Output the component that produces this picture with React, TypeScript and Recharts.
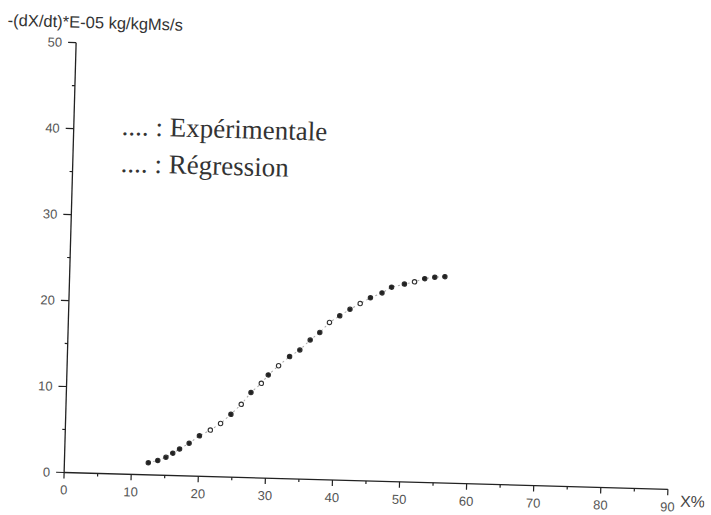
import { Legend, Scatter, ScatterChart, XAxis, YAxis } from "recharts";

// drying rate vs moisture content X%
const regX = [
  12.5, 13.9, 15.1, 16.1, 17.1, 18.5, 20.0, 21.6, 23.1, 24.6, 26.1, 27.5, 29.0, 30.0, 31.5, 33.1,
  34.6, 36.1, 37.5, 38.9, 40.4, 41.9, 43.4, 44.9, 46.6, 48.0, 49.9, 51.4, 52.9, 54.4, 55.9,
];
const regY = [
  1.4, 1.7, 2.1, 2.6, 3.1, 3.8, 4.7, 5.4, 6.2, 7.3, 8.5, 9.9, 11.0, 12.0, 13.1, 14.2,
  15.0, 16.2, 17.1, 18.3, 19.1, 19.9, 20.6, 21.3, 21.9, 22.6, 23.0, 23.3, 23.7, 23.9, 24.0,
];
const expX = [
  12.5, 13.9, 15.1, 16.1, 17.1, 18.5, 20.0, 24.6, 27.5, 30.0, 33.1, 34.6, 36.1, 37.5, 40.4, 41.9,
  44.9, 46.6, 48.0, 49.9, 52.9, 54.4, 55.9,
];
const expY = [
  1.4, 1.7, 2.1, 2.6, 3.1, 3.8, 4.7, 7.3, 9.9, 12.0, 14.2, 15.0, 16.2, 17.1, 19.1, 19.9,
  21.3, 21.9, 22.6, 23.0, 23.7, 23.9, 24.0,
];
const xTicks = [0, 5, 10, 15, 20, 25, 30, 35, 40, 45, 50, 55, 60, 65, 70, 75, 80, 85, 90];
const yTicks = [0, 5, 10, 15, 20, 25, 30, 35, 40, 45, 50];

const SANS = '"Liberation Sans", Arial, sans-serif';
const SERIF = '"Liberation Serif", "Times New Roman", serif';
const INK = "#222";

const experimental = expX.map((x, i) => ({ x, y: expY[i] }));
const regression = regX.map((x, i) => ({ x, y: regY[i] }));

function XTick({ x, y, payload }: any) {
  const major = payload.value % 10 === 0;
  return (
    <g>
      <line x1={x} y1={y} x2={x} y2={y + (major ? 6 : 3)} stroke={INK} strokeWidth={1.2} />
      {major && (
        <text x={x} y={y + 22} textAnchor="middle" fontSize={13} fill="#555" fontFamily={SANS}>
          {payload.value}
        </text>
      )}
    </g>
  );
}

function YTick({ x, y, payload }: any) {
  const major = payload.value % 10 === 0;
  return (
    <g>
      <line x1={x - (major ? 8 : 3)} y1={y} x2={x} y2={y} stroke={INK} strokeWidth={1.2} />
      {major && (
        <text x={x - 14} y={y} dy="0.35em" textAnchor="end" fontSize={13} fill="#555" fontFamily={SANS}>
          {payload.value}
        </text>
      )}
    </g>
  );
}

const FilledDot = ({ cx, cy }: any) => <circle cx={cx} cy={cy} r={2.1} fill={INK} />;
const HollowDot = ({ cx, cy }: any) => (
  <circle cx={cx} cy={cy} r={2.2} fill="#fff" stroke="#333" strokeWidth={1.1} />
);

function LegendBox({ payload }: any) {
  return (
    <div style={{ fontFamily: SERIF, fontSize: 27, color: "#333", lineHeight: "37px", textAlign: "left" }}>
      {(payload || []).map((entry: any) => (
        <div key={entry.value} style={{ whiteSpace: "pre" }}>
          {".... : " + entry.value}
        </div>
      ))}
    </div>
  );
}

export default function App() {
  return (
    <div
      style={{
        position: "fixed",
        left: 0,
        top: 0,
        width: 711,
        height: 515,
        overflow: "hidden",
        background: "#fff",
      }}
    >
      <div style={{ width: 711, height: 515, transform: "rotate(1.6deg)", transformOrigin: "372px 266px" }}>
        <ScatterChart width={711} height={515} margin={{ top: 51, right: 37, bottom: 4, left: 30 }}>
          <XAxis
            type="number"
            dataKey="x"
            domain={[0, 90]}
            ticks={xTicks}
            interval={0}
            height={30}
            tickSize={0}
            tickMargin={0}
            tickLine={false}
            tick={<XTick />}
            axisLine={{ stroke: INK, strokeWidth: 1.3 }}
            label={{
              value: "X%",
              content: ({ viewBox }: any) => (
                <text
                  x={viewBox.x + viewBox.width + 25}
                  y={viewBox.y + 17}
                  textAnchor="middle"
                  fontSize={16}
                  fill="#444"
                  fontFamily={SANS}
                >
                  X%
                </text>
              ),
            }}
          />
          <YAxis
            type="number"
            dataKey="y"
            domain={[0, 50]}
            ticks={yTicks}
            interval={0}
            width={40}
            tickSize={0}
            tickMargin={0}
            tickLine={false}
            tick={<YTick />}
            axisLine={{ stroke: INK, strokeWidth: 1.3 }}
            label={{
              value: "-(dX/dt)*E-05 kg/kgMs/s",
              content: ({ viewBox }: any) => (
                <text x={viewBox.x - 29} y={viewBox.y - 15} fontSize={16.5} fill="#333" fontFamily={SANS}>
                  -(dX/dt)*E-05 kg/kgMs/s
                </text>
              ),
            }}
          />
          <Legend
            layout="vertical"
            align="center"
            verticalAlign="middle"
            content={<LegendBox />}
            wrapperStyle={{ left: 118, top: 115, width: "auto" }}
          />
          <Scatter
            name="Régression"
            data={regression}
            fill="#333"
            line={{ stroke: "#aaa", strokeWidth: 1, strokeDasharray: "2 3" }}
            lineType="joint"
            shape={<HollowDot />}
            isAnimationActive={false}
          />
          <Scatter
            name="Expérimentale"
            data={experimental}
            fill={INK}
            shape={<FilledDot />}
            isAnimationActive={false}
          />
        </ScatterChart>
      </div>
    </div>
  );
}
